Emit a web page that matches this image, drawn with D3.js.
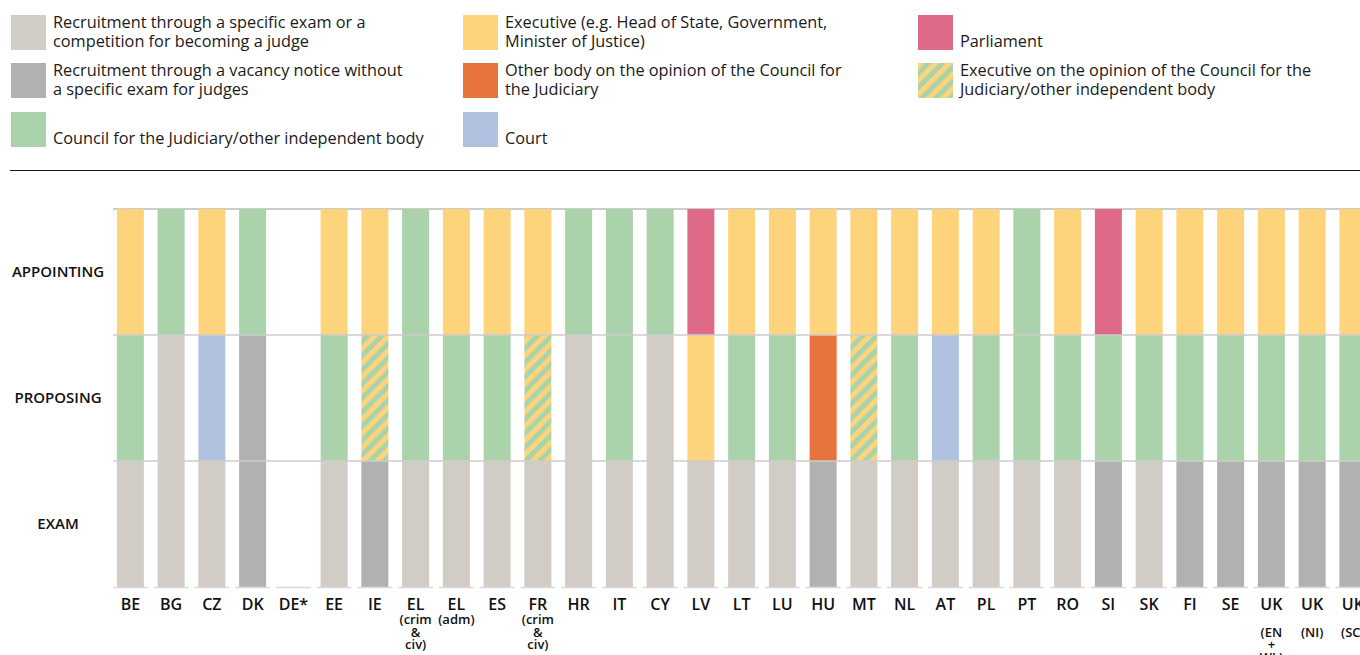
<!DOCTYPE html>
<html>
<head>
<meta charset="utf-8">
<script src="https://cdn.jsdelivr.net/npm/d3@7"></script>
<style>
  html, body { margin: 0; padding: 0; background: #fff; }
  svg { display: block; font-family: "Open Sans", sans-serif; }
</style>
</head>
<body>
<svg id="chart" width="1360" height="655"></svg>
<script>
// Member states / jurisdictions along the x axis
const countries = ["BE","BG","CZ","DK","DE*","EE","IE","EL","EL","ES","FR","HR","IT","CY","LV","LT","LU","HU","MT","NL","AT","PL","PT","RO","SI","SK","FI","SE","UK","UK","UK"];
const subLabels = [[],[],[],[],[],[],[],["(crim","&","civ)"],["(adm)"],[],["(crim","&","civ)"],[],[],[],[],[],[],[],[],[],[],[],[],[],[],[],[],[],["","(EN","+","WL)"],["","(NI)"],["","(SC)"]];

// Stages of the appointment procedure (top to bottom)
const stages = ["APPOINTING","PROPOSING","EXAM"];

// Body responsible at each stage (null = no data)
const examBody = ["exam","exam","exam","vacancy",null,"exam","vacancy","exam","exam","exam","exam","exam","exam","exam","exam","exam","exam","vacancy","exam","exam","exam","exam","exam","exam","vacancy","exam","vacancy","vacancy","vacancy","vacancy","vacancy"];
const proposingBody = ["council","exam","court","vacancy",null,"council","execCouncil","council","council","council","execCouncil","exam","council","exam","executive","council","council","other","execCouncil","council","court","council","council","council","council","council","council","council","council","council","council"];
const appointingBody = ["executive","council","executive","council",null,"executive","executive","council","executive","executive","executive","council","council","council","parliament","executive","executive","executive","executive","executive","executive","executive","council","executive","parliament","executive","executive","executive","executive","executive","executive"];

// Legend entries, laid out in three columns
const legendKeys = ["exam","vacancy","council","executive","other","court","parliament","execCouncil"];
const legendLabels = [
  ["Recruitment through a specific exam or a","competition for becoming a judge"],
  ["Recruitment through a vacancy notice without","a specific exam for judges"],
  ["","Council for the Judiciary/other independent body"],
  ["Executive (e.g. Head of State, Government,","Minister of Justice)"],
  ["Other body on the opinion of the Council for","the Judiciary"],
  ["","Court"],
  ["","Parliament"],
  ["Executive on the opinion of the Council for the","Judiciary/other independent body"]
];

const colors = {
  exam: "#d1cdc6",
  vacancy: "#b1b2af",
  council: "#aad3ab",
  executive: "#fdd47b",
  other: "#e8743d",
  court: "#b0c2e0",
  parliament: "#de6a88",
  execCouncil: "url(#stripes)"
};

const svg = d3.select("#chart");

// Diagonal yellow/green hatch
const defs = svg.append("defs");
const pat = defs.append("pattern")
  .attr("id", "stripes")
  .attr("patternUnits", "userSpaceOnUse")
  .attr("width", 10).attr("height", 10)
  .attr("patternTransform", "rotate(45)");
pat.append("rect").attr("width", 10).attr("height", 10).attr("fill", colors.council);
pat.append("rect").attr("width", 5).attr("height", 10).attr("fill", colors.executive);

// ---- Legend ----
const legendCols = [11, 463, 918];
const legendRows = [15, 63, 112];
const legend = svg.append("g").attr("class", "legend");
legendKeys.forEach((k, i) => {
  const col = Math.floor(i / 3), row = i % 3;
  const x = legendCols[col], y = legendRows[row];
  const g = legend.append("g").attr("transform", `translate(${x},${y})`);
  g.append("rect").attr("width", 35).attr("height", 35).attr("fill", colors[k]);
  legendLabels[i].forEach((line, j) => {
    g.append("text")
      .attr("x", 42).attr("y", 13 + j * 19)
      .attr("font-size", 16.3).attr("fill", "#1a1a1a")
      .text(line);
  });
});

svg.append("line")
  .attr("x1", 10).attr("x2", 1360)
  .attr("y1", 170.5).attr("y2", 170.5)
  .attr("stroke", "#1a1a1a").attr("stroke-width", 1.2);

// ---- Scales ----
const x = d3.scaleBand()
  .domain(d3.range(countries.length))
  .range([110, 110 + countries.length * 40.75]);

const y = d3.scaleBand()
  .domain(stages)
  .range([209, 587]);

const barW = 27;
const plot = svg.append("g");

// top gridline sits behind the bars
plot.append("line")
  .attr("x1", 113).attr("x2", 1360)
  .attr("y1", y("APPOINTING")).attr("y2", y("APPOINTING"))
  .attr("stroke", "#cccccc").attr("stroke-width", 2);

const stageData = { EXAM: examBody, PROPOSING: proposingBody, APPOINTING: appointingBody };
const cells = [];
stages.forEach(s => {
  stageData[s].forEach((b, i) => { if (b) cells.push({ stage: s, i, body: b }); });
});

plot.selectAll("rect.cell")
  .data(cells)
  .join("rect")
  .attr("class", "cell")
  .attr("x", d => x(d.i) + x.bandwidth() / 2 - barW / 2)
  .attr("width", barW)
  .attr("y", d => y(d.stage))
  .attr("height", y.bandwidth())
  .attr("fill", d => colors[d.body]);

// stage boundaries drawn over the bars
plot.selectAll("line.grid")
  .data(["PROPOSING","EXAM"])
  .join("line")
  .attr("class", "grid")
  .attr("x1", 113).attr("x2", 1360)
  .attr("y1", d => y(d)).attr("y2", d => y(d))
  .attr("stroke", "#cccccc").attr("stroke-width", 1.6);

// baseline segments under each column
plot.selectAll("line.base")
  .data(countries.map((c, i) => i))
  .join("line")
  .attr("class", "base")
  .attr("x1", i => x(i) + 3).attr("x2", i => x(i) + x.bandwidth() - 3)
  .attr("y1", 587.5).attr("y2", 587.5)
  .attr("stroke", "#d9d9d9").attr("stroke-width", 1.5);

// Row labels
svg.selectAll("text.stage")
  .data(stages)
  .join("text")
  .attr("class", "stage")
  .attr("x", 58)
  .attr("y", d => y(d) + y.bandwidth() / 2 + 5)
  .attr("text-anchor", "middle")
  .attr("font-size", 15).attr("font-weight", 600)
  .attr("fill", "#111")
  .text(d => d);

// Column labels
const xl = svg.append("g");
countries.forEach((c, i) => {
  const cx = x(i) + x.bandwidth() / 2;
  xl.append("text")
    .attr("x", cx).attr("y", 610)
    .attr("text-anchor", "middle")
    .attr("font-size", 16).attr("font-weight", 600).attr("fill", "#111")
    .text(c);
  subLabels[i].forEach((s, j) => {
    xl.append("text")
      .attr("x", cx).attr("y", 624 + j * 12.6)
      .attr("text-anchor", "middle")
      .attr("font-size", 13).attr("font-weight", 600).attr("fill", "#111")
      .text(s);
  });
});
</script>
</body>
</html>
